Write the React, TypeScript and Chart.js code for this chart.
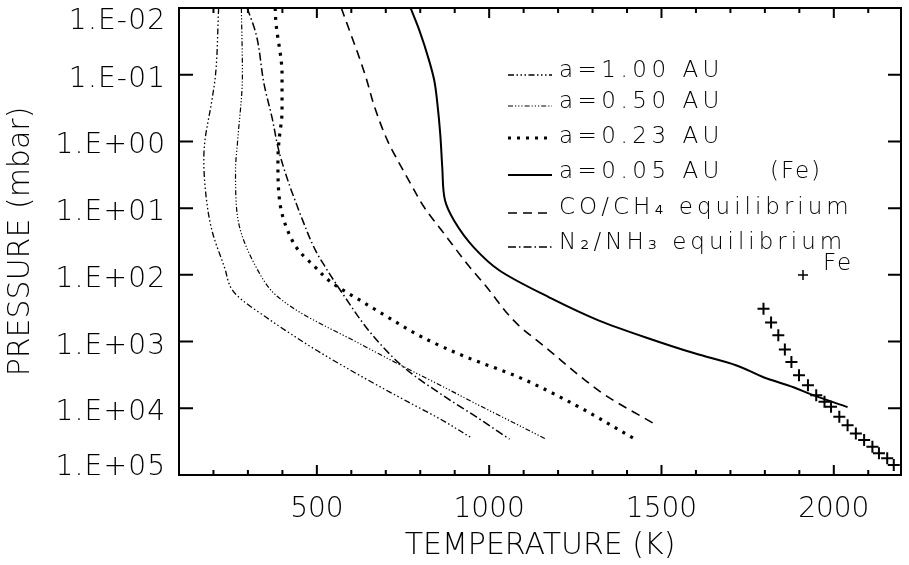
import React, { useEffect, useRef } from 'react';
import { Chart, registerables } from 'chart.js';

Chart.register(...registerables);

// ---- data (temperature in K, pressure in mbar) ----
const xTickValues = [500, 1000, 1500, 2000];
const yTickValues = [0.01, 0.1, 1, 10, 100, 1000, 10000, 100000];
const yTickLabels = ['1.E-02', '1.E-01', '1.E+00', '1.E+01', '1.E+02', '1.E+03', '1.E+04', '1.E+05'];

const a100T = [215, 206, 195, 175, 172, 183, 198, 232, 255, 284, 353, 426, 504, 587, 675, 766, 858, 950];
const a100P = [0.01, 0.1, 0.25, 1.0, 1.9, 10, 24, 77, 170, 240, 433, 778, 1400, 2500, 4500, 8100, 14500, 28000];

const a050T = [281, 284, 270, 264, 267, 281, 324, 367, 399, 456, 525, 600, 677, 772, 869, 964, 1079, 1165];
const a050P = [0.01, 0.1, 1.0, 2.7, 10, 24, 77, 170, 240, 378, 590, 924, 1500, 2690, 4830, 8670, 17260, 29000];

const a023T = [379, 381, 399, 399, 390, 387, 393, 419, 447, 496, 542, 625, 706, 806, 935, 1079, 1251, 1423];
const a023P = [0.01, 0.016, 0.1, 0.35, 1.0, 1.9, 8.5, 24, 43, 77, 130, 240, 430, 860, 1720, 3300, 9000, 29000];

const a005T = [772, 798, 826, 841, 849, 858, 864, 872, 898, 956, 1030, 1174, 1317, 1461, 1596, 1716, 1796, 1883, 1940, 2040];
const a005P = [0.01, 0.022, 0.062, 0.124, 0.25, 0.77, 2.5, 7.7, 15.3, 39, 86, 217, 480, 890, 1500, 2260, 3420, 4830, 6360, 9600];

const coT = [571, 640, 668, 706, 734, 772, 812, 869, 944, 984, 1079, 1174, 1271, 1337, 1486];
const coP = [0.01, 0.1, 0.31, 1.0, 1.9, 4.3, 9.8, 24, 77, 134, 530, 1350, 3540, 6360, 17900];

const n2T = [298, 324, 347, 370, 390, 419, 437, 456, 496, 525, 582, 657, 755, 869, 964, 1059];
const n2P = [0.01, 0.025, 0.14, 0.44, 1.4, 4.3, 7.7, 14, 43, 77, 217, 750, 2500, 6580, 13600, 29000];

const feT = [1796, 1818, 1839, 1858, 1877, 1899, 1925, 1949, 1973, 1992, 2016, 2040, 2064, 2088, 2112, 2131, 2155, 2174];
const feP = [321, 520, 805, 1320, 2020, 3190, 4510, 6360, 8000, 9510, 13400, 17900, 23800, 29900, 37700, 47400, 56200, 70800];

const legendLabels = ['a=1.00 AU', 'a=0.50 AU', 'a=0.23 AU', 'a=0.05 AU', 'CO/CH\u2084 equilibrium', 'N\u2082/NH\u2083 equilibrium'];
const feNote = '(Fe)';
const feLegend = 'Fe';

const FONT = '"DejaVu Sans", sans-serif';
const W = 200;

const lineStyles = [
  { width: 1.3, dash: [6, 2.5, 1.5, 2.5, 1.5, 2.5, 1.5, 2.5] },
  { width: 1.2, dash: [5, 2, 1.2, 2, 1.2, 2, 1.2, 2] },
  { width: 3.2, dash: [3, 6] },
  { width: 2, dash: [] as number[] },
  { width: 1.6, dash: [9, 6] },
  { width: 1.5, dash: [8, 3, 1.5, 3] },
];

const mk = (T: number[], P: number[]) => T.map((t, i) => ({ x: t, y: P[i] }));

const framePlugin = {
  id: 'frame',
  afterDatasetsDraw(chart: any) {
    const { ctx, chartArea: ca, scales } = chart;
    const xs = scales.x;
    const ys = scales.y;
    ctx.save();
    ctx.strokeStyle = '#000';
    ctx.fillStyle = '#000';
    ctx.lineWidth = 2;
    ctx.strokeRect(ca.left, ca.top, ca.right - ca.left, ca.bottom - ca.top);
    ctx.beginPath();
    yTickValues.forEach((v) => {
      const py = ys.getPixelForValue(v);
      ctx.moveTo(ca.left, py);
      ctx.lineTo(ca.left + 14, py);
      ctx.moveTo(ca.right, py);
      ctx.lineTo(ca.right - 13, py);
    });
    for (let v = 200; v < xs.max; v += 100) {
      const px = xs.getPixelForValue(v);
      const len = v % 500 === 0 ? 10 : 5;
      ctx.moveTo(px, ca.bottom);
      ctx.lineTo(px, ca.bottom - len);
      ctx.moveTo(px, ca.top);
      ctx.lineTo(px, ca.top + len);
    }
    ctx.stroke();

    // y tick labels (first / last kept inside the frame as in the original)
    ctx.font = `${W} 28px ${FONT}`;
    ctx.textAlign = 'right';
    ctx.textBaseline = 'alphabetic';
    (ctx as any).letterSpacing = '1.2px';
    const n = yTickValues.length;
    yTickValues.forEach((v, i) => {
      const py = ys.getPixelForValue(v);
      let by = py + 12;
      if (i === 0) by = py + 21;
      if (i === n - 1) by = py;
      ctx.fillText(yTickLabels[i], ca.left - 12.8, by);
    });

    // legend
    const textX = 559;
    const baselines = [77, 108, 143, 178, 214, 249];
    const sampleY = [75, 106, 138, 175, 213, 247];
    const spacing = ['4.5px', '4.5px', '4.5px', '4.5px', '4px', '4px'];
    ctx.textAlign = 'left';
    ctx.font = `${W} 23px ${FONT}`;
    legendLabels.forEach((lab, i) => {
      const st = lineStyles[i];
      ctx.beginPath();
      ctx.lineWidth = st.width;
      ctx.setLineDash(st.dash);
      ctx.moveTo(508, sampleY[i]);
      ctx.lineTo(552, sampleY[i]);
      ctx.stroke();
      ctx.setLineDash([]);
      (ctx as any).letterSpacing = spacing[i];
      ctx.fillText(lab, textX, baselines[i]);
    });
    (ctx as any).letterSpacing = '2px';
    ctx.fillText(feNote, 770, baselines[3]);
    ctx.fillText(feLegend, 823, 270);
    (ctx as any).letterSpacing = '0px';
    ctx.lineWidth = 1.5;
    ctx.beginPath();
    ctx.moveTo(798, 275);
    ctx.lineTo(808, 275);
    ctx.moveTo(803, 270);
    ctx.lineTo(803, 280);
    ctx.stroke();
    ctx.restore();
  },
};

export default function App() {
  const ref = useRef<HTMLCanvasElement | null>(null);
  useEffect(() => {
    if (!ref.current) return;
    const lineDs = (label: string, T: number[], P: number[], i: number) => ({
      label,
      data: mk(T, P),
      showLine: true,
      borderColor: '#000',
      borderWidth: lineStyles[i].width,
      borderDash: lineStyles[i].dash,
      pointRadius: 0,
      cubicInterpolationMode: 'monotone',
      fill: false,
    });
    const chart = new Chart(ref.current, {
      type: 'line',
      data: {
        datasets: [
          lineDs(legendLabels[0], a100T, a100P, 0),
          lineDs(legendLabels[1], a050T, a050P, 1),
          lineDs(legendLabels[2], a023T, a023P, 2),
          lineDs(legendLabels[3], a005T, a005P, 3),
          lineDs(legendLabels[4], coT, coP, 4),
          lineDs(legendLabels[5], n2T, n2P, 5),
          {
            label: 'Fe',
            data: mk(feT, feP),
            showLine: false,
            pointStyle: 'cross',
            pointRadius: 6,
            borderWidth: 2,
            borderColor: '#000',
            backgroundColor: '#000',
          } as any,
        ],
      },
      options: {
        indexAxis: 'y',
        responsive: false,
        animation: false,
        layout: { padding: { top: 7, right: 1, left: 0, bottom: 0 } },
        plugins: { legend: { display: false }, tooltip: { enabled: false } },
        scales: {
          x: {
            type: 'linear',
            min: 100,
            max: 2195,
            grid: { display: false, drawTicks: false },
            border: { display: false },
            ticks: {
              color: '#000',
              font: { family: FONT, size: 28, weight: W as any },
              padding: 17.5,
              maxRotation: 0,
              autoSkip: false,
              callback: (v: any) => String(v),
            },
            afterBuildTicks: (s: any) => {
              s.ticks = xTickValues.map((v) => ({ value: v }));
            },
            afterFit: (s: any) => {
              s.height = 90;
              s.paddingLeft = 0;
              s.paddingRight = 0;
            },
            title: {
              display: true,
              text: 'TEMPERATURE (K)',
              color: '#000',
              font: { family: FONT, size: 30, weight: W as any },
              padding: { top: 0, bottom: 1 },
            },
          },
          y: {
            type: 'logarithmic',
            reverse: true,
            min: 0.01,
            max: 100000,
            grid: { display: false, drawTicks: false },
            border: { display: false },
            ticks: { display: false },
            afterBuildTicks: (s: any) => {
              s.ticks = yTickValues.map((v) => ({ value: v }));
            },
            afterFit: (s: any) => {
              s.width = 179;
              s.paddingTop = 0;
              s.paddingBottom = 0;
            },
            title: {
              display: true,
              text: 'PRESSURE (mbar)',
              color: '#000',
              font: { family: FONT, size: 30, weight: W as any },
              padding: { top: 3, bottom: 0 },
            },
          },
        },
      } as any,
      plugins: [framePlugin],
    });
    return () => chart.destroy();
  }, []);
  return (
    <div style={{ position: 'absolute', left: 0, top: 0, width: 909, height: 565, background: '#fff' }}>
      <canvas ref={ref} width={909} height={565} style={{ display: 'block' }} />
    </div>
  );
}
